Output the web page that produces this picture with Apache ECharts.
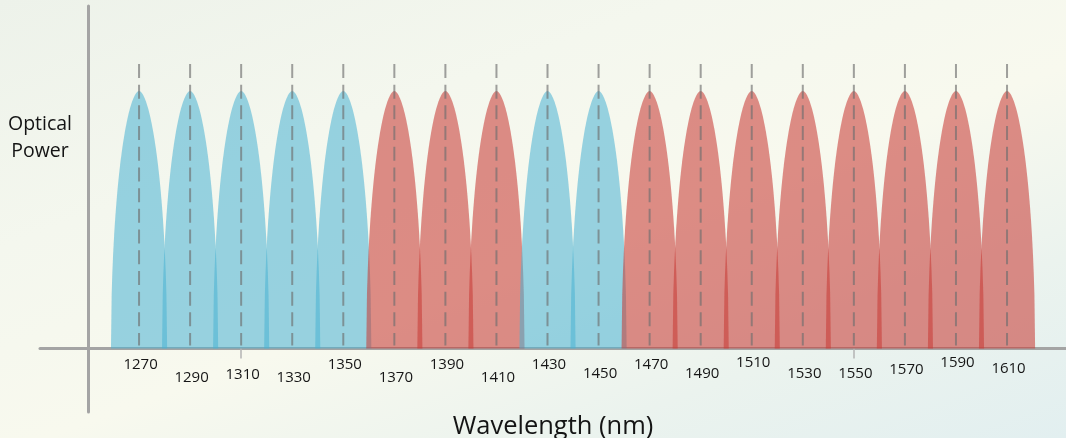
<!DOCTYPE html>
<html><head><meta charset="utf-8">
<script src="https://cdn.jsdelivr.net/npm/echarts@6/dist/echarts.min.js"></script>
<style>
html,body{margin:0;padding:0;width:1066px;height:438px;overflow:hidden;}
#c{width:1066px;height:438px;background:linear-gradient(160deg,#edf2ea 0%,#f4f7ee 30%,#f8f9ee 55%,#ebf3ee 78%,#e2eff0 100%);}
</style>
</head><body><div id="c"></div>
<script>
// ---- data ----
const wavelengths = [1270,1290,1310,1330,1350,1370,1390,1410,1430,1450,1470,1490,1510,1530,1550,1570,1590,1610];
const peakPower   = [1,1,1,1,1,1,1,1,1,1,1,1,1,1,1,1,1,1];
const channelBand = ['blue','blue','blue','blue','blue','red','red','red','blue','blue','red','red','red','red','red','red','red','red'];
const tickLabels  = ['1270','1290','1310','1330','1350','1370','1390','1410','1430','1450','1470','1490','1510','1530','1550','1570','1590','1610'];
const majorTicks  = [1310,1550];
const halfWidthNm = 11;

// ---- layout / style ----
const labelDy = [6,32,26,32,6,32,6,32,6,24,6,24,2,24,24,16,2,14];
const fills = {blue:'rgba(75,178,210,0.56)', red:'rgba(200,60,55,0.58)'};
const FONT = '"Open Sans", "Liberation Sans", sans-serif';
const X_MIN = 1231.2, X_MAX = 1633.1;

const rich = {};
labelDy.forEach((dy,i)=>{ rich['l'+i] = {padding:[dy,0,0,3], fontSize:15, fontFamily:FONT, color:'#161616', lineHeight:15}; });

const chart = echarts.init(document.getElementById('c'), null, {renderer:'canvas'});
chart.setOption({
  backgroundColor:'transparent',
  animation:false,
  grid:[
    {left:40, right:0, top:6, bottom:89.5, outerBoundsMode:'none', containLabel:false},
    {left:40, right:0, top:348.5, bottom:26, outerBoundsMode:'none', containLabel:false}
  ],
  xAxis:[{
    gridIndex:0, type:'value', min:X_MIN, max:X_MAX,
    splitLine:{show:false},
    axisLine:{show:true, onZero:false, lineStyle:{color:'#a4a4a4', width:3}},
    axisTick:{show:true, customValues:majorTicks, length:10, lineStyle:{color:'#b4b4b4', width:1.5}},
    axisLabel:{
      customValues:wavelengths, margin:6, hideOverlap:false,
      formatter:(v)=>{const i=wavelengths.indexOf(v); return '{l'+i+'|'+tickLabels[i]+'}';},
      rich:rich
    },
    name:'Wavelength (nm)', nameLocation:'middle', nameGap:65,
    nameTextStyle:{fontSize:25.5, fontFamily:FONT, color:'#141414'}
  },{
    gridIndex:1, type:'value', min:X_MIN, max:X_MAX, show:false
  }],
  yAxis:[{
    gridIndex:0, type:'value', min:0, max:1.330, offset:-48.5,
    splitLine:{show:false},
    axisLine:{show:true, onZero:false, lineStyle:{color:'#a4a4a4', width:3}},
    axisTick:{show:false}, axisLabel:{show:false}
  },{
    gridIndex:1, type:'value', min:0, max:1, offset:-48.5,
    splitLine:{show:false},
    axisLine:{show:true, onZero:false, lineStyle:{color:'#a4a4a4', width:3}},
    axisTick:{show:false}, axisLabel:{show:false}
  }],
  graphic:[{
    type:'text', x:40, y:111,
    style:{text:'Optical\nPower', font:'19.5px '+FONT, fill:'#141414', textAlign:'center', textVerticalAlign:'top', lineHeight:27}
  }],
  series:[
    {
      type:'custom', coordinateSystem:'cartesian2d', xAxisIndex:0, yAxisIndex:0, z:2,
      data:wavelengths.map((w,i)=>[w, peakPower[i], halfWidthNm]),
      encode:{x:0, y:1},
      renderItem:(params, api)=>{
        const c=api.value(0), p=api.value(1), hw=api.value(2);
        const pts=[]; const N=80;
        for(let k=0;k<=N;k++){
          const f=-1+2*k/N;
          const v=p*Math.sqrt(Math.max(0,1-Math.pow(Math.abs(f),1.8)));
          pts.push(api.coord([c+f*hw, v]));
        }
        return {type:'polygon', shape:{points:pts}, style:{fill:fills[channelBand[params.dataIndex]]}};
      }
    },
    {
      type:'custom', coordinateSystem:'cartesian2d', xAxisIndex:0, yAxisIndex:0, z:3,
      data:wavelengths.map((w,i)=>[w, peakPower[i]]),
      encode:{x:0, y:1},
      renderItem:(params, api)=>{
        const c=api.value(0), p=api.value(1);
        const a=api.coord([c, p*1.105]), b=api.coord([c, 0.012]);
        return {type:'line', shape:{x1:a[0], y1:a[1], x2:b[0], y2:b[1]},
          style:{stroke:'rgba(110,110,110,0.65)', lineWidth:2, lineDash:[14,6.7]}};
      }
    }
  ]
});
</script>
</body></html>
